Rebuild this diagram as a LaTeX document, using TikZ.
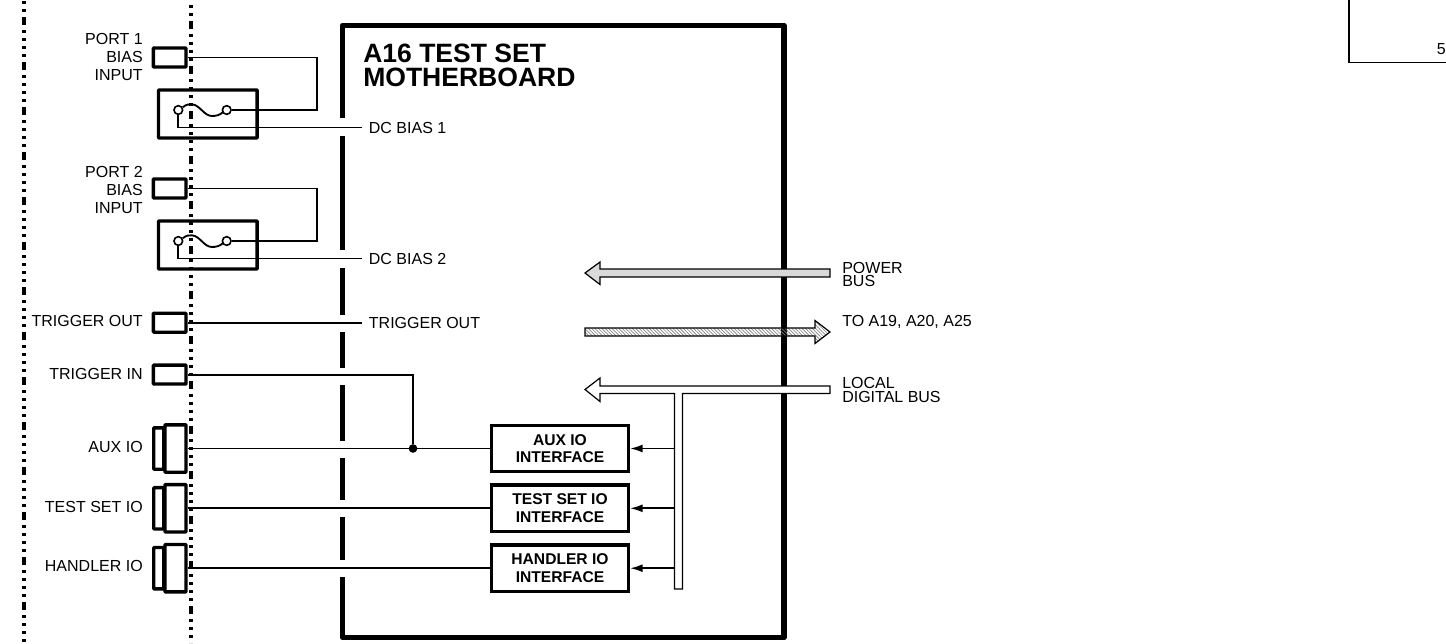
\documentclass[tikz,border=0pt]{standalone}
\usepackage{fontspec}
\setmainfont{Liberation Sans}
\usetikzlibrary{arrows.meta,patterns.meta}
\tikzset{
	a16Text/.style={
		inner sep=0pt,
		align=left,
		font=\fontsize{12}{13.5}\selectfont
	},
	a16PortLabel/.style={a16Text, anchor=east, align=right},
	a16BusLabel/.style={a16Text, anchor=west, font=\fontsize{12}{10.2}\selectfont},
	a16WireLabel/.style={a16Text, anchor=west, inner xsep=5pt},
	a16Port/.style={
		draw,
		line width=2.5pt,
		rounded corners=0.5pt,
		minimum width=24.5pt,
		minimum height=14.2pt,
		inner sep=0pt
	},
	a16ConnMain/.style={a16Port, minimum width=15.7pt, minimum height=35.5pt},
	a16ConnTail/.style={a16Port, minimum width=7.5pt, minimum height=31pt},
	a16FuseBox/.style={a16Port, minimum width=74pt, minimum height=36pt},
	a16Iface/.style={
		draw,
		line width=2.6pt,
		minimum width=102.4pt,
		minimum height=34.8pt,
		inner sep=0pt,
		align=center,
		font=\fontsize{11.7}{13.3}\selectfont\bfseries
	},
	a16Pin/.style={circle, draw, fill=white, line width=1.2pt, minimum size=6.5pt, inner sep=0pt},
	a16Joint/.style={circle, fill, minimum size=6.5pt, inner sep=0pt},
	a16Wire/.style={line width=1.4pt},
	a16Feed/.style={a16Wire, -{Latex[length=9.5pt,width=6pt]}},
	a16Bus/.style={draw, line width=0.9pt, line join=miter},
	a16Wall/.style={line width=4.2pt, line join=round},
	a16Rail/.style={
		line width=3pt,
		dash pattern=on 6pt off 3.75pt on 2.25pt off 3.75pt on 2.25pt off 3.75pt on 2.25pt off 3.75pt on 2.25pt off 3.75pt
	}
}

\begin{document}
\begin{tikzpicture}[x=0.75pt,y=-0.75pt]
	\useasboundingbox (0,0) rectangle (1446,643);

	% Chassis rails
	\draw[a16Rail, dash phase=21pt] (24,0) -- (24,643);
	\draw[a16Rail, dash phase=18pt] (190.5,0) -- (190.5,643);

	% Corner of the next sheet
	\draw[line width=1.3pt] (1349,0) -- (1349,62.5) -- (1446,62.5);
	\node[a16Text, anchor=west] (sheet) at (1436.5,49) {5};

	% Motherboard outline
	\draw[a16Wall] (342.5,118) -- (342.5,25.5) -- (784,25.5) -- (784,637.5) -- (342.5,637.5) -- (342.5,577);
	\draw[a16Wall] (342.5,136) -- (342.5,250);
	\draw[a16Wall] (342.5,268) -- (342.5,315);
	\draw[a16Wall] (342.5,332) -- (342.5,368);
	\draw[a16Wall] (342.5,385) -- (342.5,441);
	\draw[a16Wall] (342.5,458) -- (342.5,500);
	\draw[a16Wall] (342.5,517) -- (342.5,560);
	\node[a16Text, anchor=west, align=left, font=\fontsize{19.9}{18}\selectfont\bfseries] (title) at (363,65)
	{A16 TEST SET\\MOTHERBOARD};

	% Front panel ports
	\node[a16Port] (port1) at (169.7,57.5) {};
	\node[a16PortLabel] (port1Label) at (143,57) {PORT 1\\BIAS\\INPUT};
	\node[a16Port] (port2) at (169.7,188.5) {};
	\node[a16PortLabel] (port2Label) at (143,190) {PORT 2\\BIAS\\INPUT};
	\node[a16Port] (trigOut) at (169.7,322.7) {};
	\node[a16PortLabel] (trigOutLabel) at (143,321) {TRIGGER OUT};
	\node[a16Port] (trigIn) at (169.7,374.6) {};
	\node[a16PortLabel] (trigInLabel) at (143,374) {TRIGGER IN};

	\node[a16ConnTail] at (158.8,448.5) {};
	\node[a16ConnMain] (auxConn) at (175.5,448.5) {};
	\node[a16PortLabel] (auxLabel) at (143,447) {AUX IO};
	\node[a16ConnTail] at (158.8,508.3) {};
	\node[a16ConnMain] (testConn) at (175.5,508.3) {};
	\node[a16PortLabel] (testLabel) at (143,507) {TEST SET IO};
	\node[a16ConnTail] at (158.8,568.2) {};
	\node[a16ConnMain] (handlerConn) at (175.5,568.2) {};
	\node[a16PortLabel] (handlerLabel) at (143,566) {HANDLER IO};

	% Fuses
	\node[a16FuseBox] (fuseBox1) at (207.8,114) {};
	\node[a16Pin] (fuseIn1) at (178.3,110) {};
	\node[a16Pin] (fuseOut1) at (226.7,110) {};
	\draw[a16Wire] (182.7,107.3) .. controls (186,104.5) and (189,104) .. (192,104.3) .. controls (200,105) and (204,116) .. (212,116) .. controls (216,116) and (220,115) .. (222.7,112.3);

	\node[a16FuseBox] (fuseBox2) at (207.8,245) {};
	\node[a16Pin] (fuseIn2) at (178.3,241) {};
	\node[a16Pin] (fuseOut2) at (226.7,241) {};
	\draw[a16Wire] (182.7,238.3) .. controls (186,235.5) and (189,235) .. (192,235.3) .. controls (200,236) and (204,247) .. (212,247) .. controls (216,247) and (220,246) .. (222.7,243.3);

	% Signal names at the board edge
	\node[a16WireLabel] (dcBias1) at (362,127.5) {DC BIAS 1};
	\node[a16WireLabel] (dcBias2) at (362,258.5) {DC BIAS 2};
	\node[a16WireLabel] (trigOutName) at (362,322.7) {TRIGGER OUT};

	% Interfaces
	\node[a16Iface] (auxIface) at (560,448.5) {AUX IO\\INTERFACE};
	\node[a16Iface] (testIface) at (560,508.3) {TEST SET IO\\INTERFACE};
	\node[a16Iface] (handlerIface) at (560,568.2) {HANDLER IO\\INTERFACE};

	% Buses
	\path[a16Bus, fill=gray!30] (585,273) -- (600,262) -- (600,269) -- (830,269) -- (830,277) -- (600,277) -- (600,284.5) -- cycle;
	\path[a16Bus, pattern={Lines[angle=-45,distance=1.8pt,line width=0.5pt]}, pattern color=gray] (585,328) -- (815,328) -- (815,320.5) -- (830,332) -- (815,343.5) -- (815,336) -- (585,336) -- cycle;
	\path[a16Bus, fill=white] (585,389.5) -- (600,378) -- (600,386) -- (830,386) -- (830,393.5) -- (682.5,393.5) -- (682.5,589) -- (674.5,589) -- (674.5,393.5) -- (600,393.5) -- (600,401.5) -- cycle;
	\node[a16BusLabel] (powerLabel) at (842,274.5) {POWER\\BUS};
	\node[a16Text, anchor=west] (toBoards) at (842,322) {TO A19, A20, A25};
	\node[a16BusLabel] (localLabel) at (842,390) {LOCAL\\DIGITAL BUS};
	\coordinate (stemAux) at (674.5,448.5);
	\coordinate (stemTest) at (674.5,508.3);
	\coordinate (stemHandler) at (674.5,568.2);

	% Wires
	\draw[a16Wire] (port1.east) -- ++(129,0) |- (fuseOut1.east);
	\draw[a16Wire] (fuseIn1.south) |- (dcBias1.west);
	\draw[a16Wire] (port2.east) -- ++(129,0) |- (fuseOut2.east);
	\draw[a16Wire] (fuseIn2.south) |- (dcBias2.west);
	\draw[a16Wire] (trigOut.east) -- (trigOutName.west);
	\draw[a16Wire] (auxConn.east) -- (auxIface.west);
	\draw[a16Wire] (testConn.east) -- (testIface.west);
	\draw[a16Wire] (handlerConn.east) -- (handlerIface.west);
	\node[a16Joint] (auxJoint) at (413,448.5) {};
	\draw[a16Wire] (trigIn.east) -| (auxJoint);
	\draw[a16Feed] (stemAux) -- (auxIface.east);
	\draw[a16Feed] (stemTest) -- (testIface.east);
	\draw[a16Feed] (stemHandler) -- (handlerIface.east);

\end{tikzpicture}
\end{document}
